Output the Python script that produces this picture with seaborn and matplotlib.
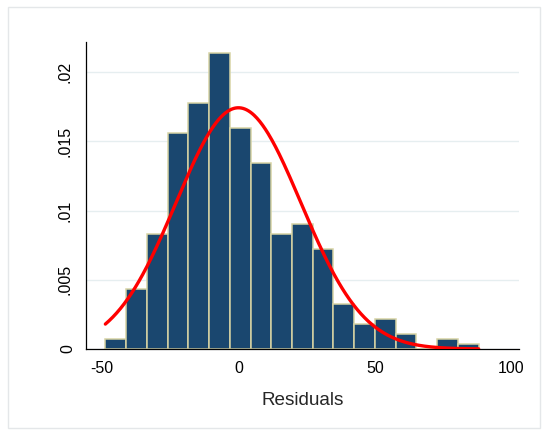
import numpy as np
import pandas as pd
import matplotlib
matplotlib.use("Agg")
import matplotlib.pyplot as plt
import matplotlib.transforms as mtransforms
from matplotlib.patches import Rectangle
import seaborn as sns

# Histogram of residuals: bin layout and counts per bin
bin_start = -48.8
bin_width = 7.606
bin_counts = [2, 12, 23, 43, 49, 59, 44, 37, 23, 25, 20, 9, 5, 6, 3, 0, 2, 1]

# Normal density overlay
norm_mean = 0.0
norm_sd = 22.9

x_ticks = [-50, 0, 50, 100]
x_tick_labels = ["-50", "0", "50", "100"]
y_ticks = [0, 0.005, 0.01, 0.015, 0.02]
y_tick_labels = ["0", ".005", ".01", ".015", ".02"]
x_label = "Residuals"

sns.set_style("white")
plt.rcParams["font.family"] = ["Liberation Sans", "DejaVu Sans"]

n_bins = len(bin_counts)
edges = bin_start + bin_width * np.arange(n_bins + 1)
centers = (edges[:-1] + edges[1:]) / 2
hist_df = pd.DataFrame({"resid": centers, "n": bin_counts})

grid_x = np.linspace(edges[0], edges[-1], 400)
grid_y = np.exp(-0.5 * ((grid_x - norm_mean) / norm_sd) ** 2) / (norm_sd * np.sqrt(2 * np.pi))
curve_df = pd.DataFrame({"x": grid_x, "y": grid_y})

W, H = 544, 432
fig = plt.figure(figsize=(W / 100, H / 100), dpi=100)
fig.patch.set_facecolor("white")
fig.patches.append(Rectangle((8 / W, 1 - 428 / H), (540 - 8) / W, (428 - 7) / H,
                             transform=fig.transFigure, fill=False,
                             edgecolor="#e4e7e9", linewidth=1.0))

ax = fig.add_axes([86 / W, 1 - 349 / H, (519 - 86) / W, (349 - 42) / H])

ax.yaxis.grid(True, color="#e6eef0", linewidth=1.0, zorder=0)
ax.set_axisbelow(True)

sns.histplot(data=hist_df, x="resid", weights="n", bins=n_bins,
             binrange=(float(edges[0]), float(edges[-1])), stat="density",
             color="#1a476f", edgecolor="#d7d3a4", linewidth=1.1, alpha=1.0,
             ax=ax, zorder=2)
sns.lineplot(data=curve_df, x="x", y="y", color="#ff0000", linewidth=2.4,
             ax=ax, zorder=3)

ax.set_xlim(-55.9, 102.9)
ax.set_ylim(0, 0.02217)

ax.set_xticks(x_ticks)
ax.set_xticklabels(x_tick_labels, fontsize=11.5)
ax.set_yticks(y_ticks)
ax.set_yticklabels(y_tick_labels, fontsize=11.5, rotation=90, va="center")

for side in ["top", "right"]:
    ax.spines[side].set_visible(False)
for side in ["left", "bottom"]:
    ax.spines[side].set_color("black")
    ax.spines[side].set_linewidth(0.9)

ax.tick_params(axis="x", direction="out", length=4.5, width=0.9, pad=4, colors="black")
ax.tick_params(axis="y", direction="out", length=4.5, width=0.9, pad=5, colors="black")

# the single-character zero label sits a little closer to the axis
zero_lbl = ax.get_yticklabels()[0]
zero_lbl.set_transform(zero_lbl.get_transform()
                       + mtransforms.ScaledTranslation(3 / 100, 0, fig.dpi_scale_trans))

ax.set_xlabel(x_label, fontsize=13.6, labelpad=12)
ax.set_ylabel("")

fig.savefig("out.png", dpi=100)
